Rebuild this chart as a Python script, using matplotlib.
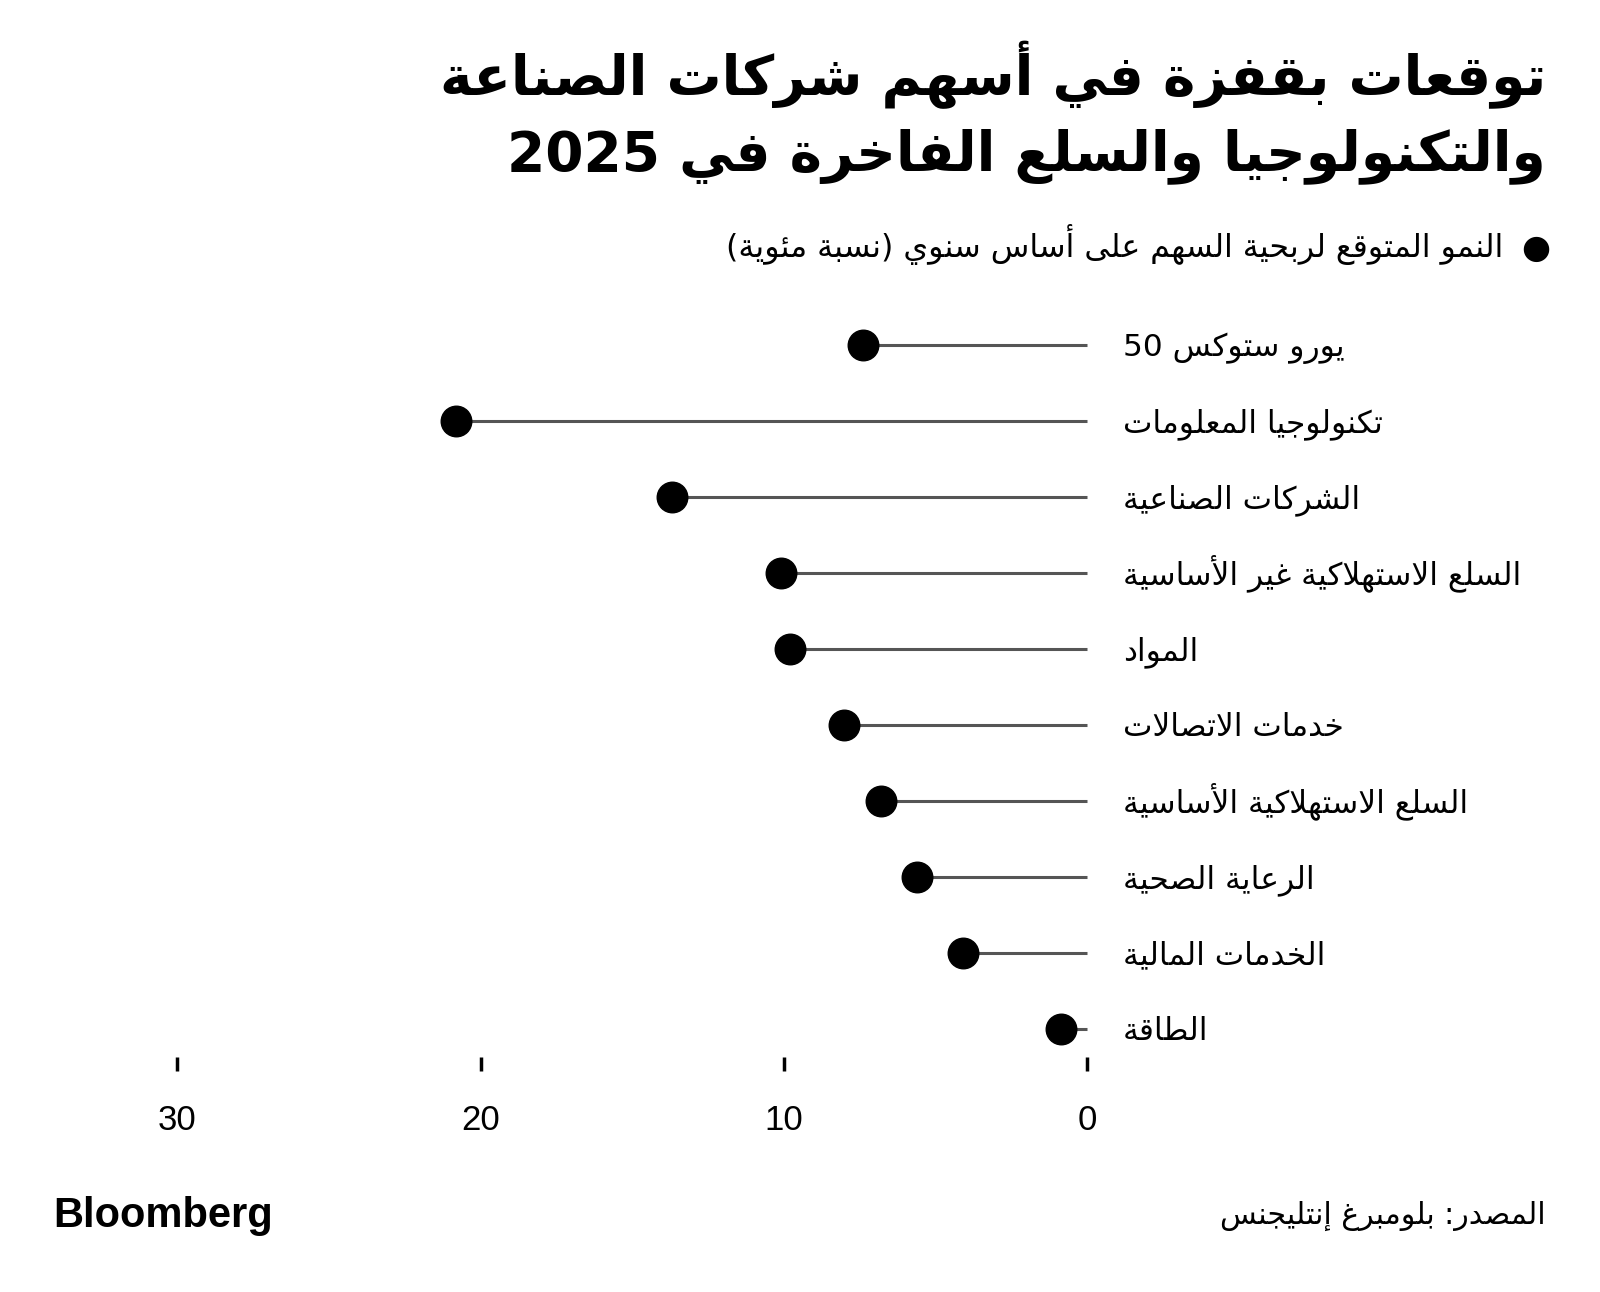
import re
import matplotlib
matplotlib.use("Agg")
import matplotlib.pyplot as plt

# matplotlib does no arabic shaping: map letters to presentation forms by hand
letters = [chr(c) for c in range(0x0621, 0x063B)] + [chr(c) for c in range(0x0641, 0x064B)]
nforms = [1, 2, 2, 2, 2, 4, 2, 4, 2, 4, 4, 4, 4, 4, 2, 2, 2, 2, 4, 4, 4, 4, 4, 4, 4, 4,
          4, 4, 4, 4, 4, 4, 4, 2, 2, 4]
FORMS = {}
code = 0xFE80
for ch, n in zip(letters, nforms):
    FORMS[ch] = [chr(code + i) for i in range(n)]
    code += n
for alef, c in zip("آأإا", [0xFEF5, 0xFEF7, 0xFEF9, 0xFEFB]):
    FORMS["ل" + alef] = [chr(c), chr(c + 1)]


def shape(s):
    toks = []
    i = 0
    while i < len(s):
        if s[i:i + 2] in FORMS:
            toks.append(s[i:i + 2])
            i += 2
        else:
            toks.append(s[i])
            i += 1
    out = ""
    for i, t in enumerate(toks):
        if t not in FORMS:
            out += t
            continue
        f = FORMS[t]
        p = i > 0 and len(FORMS.get(toks[i - 1], [])) == 4 and len(f) > 1
        n = i + 1 < len(toks) and len(f) == 4 and len(FORMS.get(toks[i + 1], [])) > 1
        if p and n:
            out += f[3]
        elif p:
            out += f[1]
        elif n:
            out += f[2]
        else:
            out += f[0]
    return out


def ar(s):
    v = shape(s)[::-1]
    v = re.sub(r"[0-9A-Za-z]+", lambda m: m.group()[::-1], v)
    return v.translate(str.maketrans("()", ")("))


title1 = "توقعات بقفزة في أسهم شركات الصناعة"
title2 = "والتكنولوجيا والسلع الفاخرة في 2025"
legend_label = "النمو المتوقع لربحية السهم على أساس سنوي (نسبة مئوية)"
source = "المصدر: بلومبرغ إنتليجنس"

sectors = [
    "يورو ستوكس 50",
    "تكنولوجيا المعلومات",
    "الشركات الصناعية",
    "السلع الاستهلاكية غير الأساسية",
    "المواد",
    "خدمات الاتصالات",
    "السلع الاستهلاكية الأساسية",
    "الرعاية الصحية",
    "الخدمات المالية",
    "الطاقة",
]
growth = [7.4, 20.8, 13.7, 10.1, 9.8, 8.0, 6.8, 5.6, 4.1, 0.85]
xticks = [0, 10, 20, 30]

W, H = 1600, 1292
fig = plt.figure(figsize=(W / 100, H / 100), dpi=100)
ax = fig.add_axes([150 / W, 1 - 1071 / H, 950 / W, 771 / H])

ypos = list(range(len(sectors)))
ax.hlines(ypos, 0, growth, color="#555555", lw=2.2, zorder=1)
ax.plot(growth, ypos, "o", color="black", ms=22, zorder=2)

for y, name in zip(ypos, sectors):
    ax.text(-1.19, y + 0.15, ar(name), fontsize=22.5, ha="left", va="baseline",
            family="DejaVu Sans")

ax.set_xlim(30.904, -0.429)
ax.set_ylim(9.553, -0.592)
ax.set_yticks([])
ax.set_xticks(xticks)
ax.set_xticklabels([str(t) for t in xticks], fontsize=25, family="Liberation Sans")
ax.tick_params(axis="x", direction="in", length=10, width=2.5, pad=24)
for s in ax.spines.values():
    s.set_visible(False)

fig.text(1546 / W, 1 - 95 / H, ar(title1), fontsize=39.5, weight="bold",
         ha="right", va="baseline")
fig.text(1546 / W, 1 - 170 / H, ar(title2), fontsize=39.5, weight="bold",
         ha="right", va="baseline")

fig.text(1536 / W, 1 - 248 / H, "●", fontsize=24, ha="center", va="center")
fig.text(1503 / W, 1 - 257 / H, ar(legend_label), fontsize=22.8, ha="right", va="baseline")

fig.text(1546 / W, 1 - 1224 / H, ar(source), fontsize=21.6, ha="right", va="baseline")
fig.text(53 / W, 1 - 1227 / H, "Bloomberg", fontsize=30, weight="bold",
         family="Liberation Sans", ha="left", va="baseline")

fig.savefig("out.png", dpi=100)
